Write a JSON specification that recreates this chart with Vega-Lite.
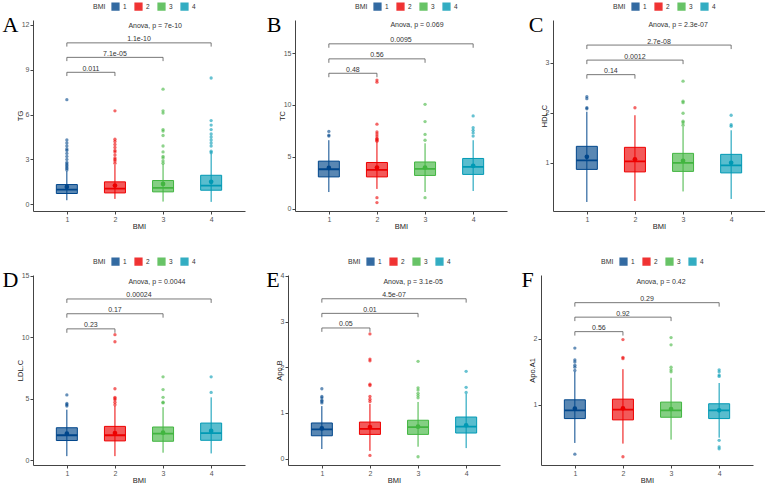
{
"$schema":"https://vega.github.io/schema/vega-lite/v6.json",
"padding":{"left":2,"top":2,"right":0,"bottom":0},
"background":"white",
"config":{
 "view":{"stroke":null},
 "font":"Liberation Sans",
 "range":{"category":["#00468B","#ED0000","#42B540","#0099B4"]},
 "axis":{"grid":false,"domainColor":"#444","tickColor":"#444","labelColor":"#555","labelFontSize":7,"titleFontSize":7.5,"titleFontWeight":"normal","titleColor":"#222","tickSize":3,"labelPadding":1,"domainWidth":1},
 "axisX":{"titlePadding":0},
 "axisY":{"titlePadding":-3},
 "legend":{"orient":"none","direction":"horizontal","titleOrient":"left","symbolType":"square","symbolSize":45,"labelFontSize":6.5,"titleFontSize":7,"titleFontWeight":"normal","titleColor":"#333","labelColor":"#333","columnPadding":5,"labelOffset":3,"titlePadding":5,"symbolOpacity":0.8},
 "title":{"font":"Liberation Serif","fontSize":22,"fontWeight":"normal","color":"#000","orient":"left","anchor":"end","frame":"group","angle":0,"baseline":"top","align":"right","offset":2,"dy":-5,"dx":20}
},
"datasets":{
"box":[
{"p":"A","BMI":1,"lo":0.27,"q1":0.72,"med":0.98,"q3":1.32,"hi":2.22,"mean":1.16},
{"p":"A","BMI":2,"lo":0.36,"q1":0.76,"med":1.05,"q3":1.5,"hi":2.65,"mean":1.25},
{"p":"A","BMI":3,"lo":0.18,"q1":0.83,"med":1.1,"q3":1.59,"hi":2.7,"mean":1.36},
{"p":"A","BMI":4,"lo":0.16,"q1":0.94,"med":1.25,"q3":1.94,"hi":3.4,"mean":1.5},
{"p":"B","BMI":1,"lo":1.6,"q1":3.06,"med":3.8,"q3":4.58,"hi":6.6,"mean":3.93},
{"p":"B","BMI":2,"lo":1.9,"q1":3.06,"med":3.74,"q3":4.45,"hi":6.4,"mean":3.97},
{"p":"B","BMI":3,"lo":1.6,"q1":3.2,"med":3.84,"q3":4.5,"hi":6.3,"mean":3.97},
{"p":"B","BMI":4,"lo":1.7,"q1":3.3,"med":4.03,"q3":4.84,"hi":6.6,"mean":4.13},
{"p":"C","BMI":1,"lo":0.22,"q1":0.87,"med":1.05,"q3":1.33,"hi":2.02,"mean":1.12},
{"p":"C","BMI":2,"lo":0.24,"q1":0.82,"med":1.03,"q3":1.31,"hi":1.95,"mean":1.07},
{"p":"C","BMI":3,"lo":0.43,"q1":0.83,"med":1.0,"q3":1.19,"hi":1.72,"mean":1.04},
{"p":"C","BMI":4,"lo":0.28,"q1":0.8,"med":0.95,"q3":1.17,"hi":1.65,"mean":1.0},
{"p":"D","BMI":1,"lo":0.32,"q1":1.59,"med":2.02,"q3":2.63,"hi":4.1,"mean":2.15},
{"p":"D","BMI":2,"lo":0.32,"q1":1.56,"med":2.02,"q3":2.74,"hi":4.4,"mean":2.2},
{"p":"D","BMI":3,"lo":0.6,"q1":1.53,"med":2.15,"q3":2.69,"hi":4.3,"mean":2.23},
{"p":"D","BMI":4,"lo":0.54,"q1":1.61,"med":2.2,"q3":3.01,"hi":5.1,"mean":2.37},
{"p":"E","BMI":1,"lo":0.21,"q1":0.5,"med":0.64,"q3":0.78,"hi":1.15,"mean":0.66},
{"p":"E","BMI":2,"lo":0.17,"q1":0.53,"med":0.65,"q3":0.8,"hi":1.2,"mean":0.69},
{"p":"E","BMI":3,"lo":0.26,"q1":0.53,"med":0.69,"q3":0.84,"hi":1.24,"mean":0.7},
{"p":"E","BMI":4,"lo":0.23,"q1":0.56,"med":0.7,"q3":0.91,"hi":1.42,"mean":0.73},
{"p":"F","BMI":1,"lo":0.42,"q1":0.79,"med":0.915,"q3":1.075,"hi":1.5,"mean":0.94},
{"p":"F","BMI":2,"lo":0.41,"q1":0.77,"med":0.925,"q3":1.085,"hi":1.54,"mean":0.945},
{"p":"F","BMI":3,"lo":0.47,"q1":0.81,"med":0.915,"q3":1.04,"hi":1.41,"mean":0.935},
{"p":"F","BMI":4,"lo":0.5,"q1":0.79,"med":0.915,"q3":1.015,"hi":1.33,"mean":0.915}
],
"out":[
{"p":"A","BMI":1,"v":2.3},{"p":"A","BMI":1,"v":2.4},{"p":"A","BMI":1,"v":2.5},{"p":"A","BMI":1,"v":2.6},{"p":"A","BMI":1,"v":2.7},{"p":"A","BMI":1,"v":2.8},{"p":"A","BMI":1,"v":3.0},{"p":"A","BMI":1,"v":3.2},{"p":"A","BMI":1,"v":3.4},{"p":"A","BMI":1,"v":3.6},{"p":"A","BMI":1,"v":3.7},{"p":"A","BMI":1,"v":3.9},{"p":"A","BMI":1,"v":4.1},{"p":"A","BMI":1,"v":4.3},{"p":"A","BMI":1,"v":7.0},
{"p":"A","BMI":2,"v":2.75},{"p":"A","BMI":2,"v":2.9},{"p":"A","BMI":2,"v":3.0},{"p":"A","BMI":2,"v":3.1},{"p":"A","BMI":2,"v":3.3},{"p":"A","BMI":2,"v":3.5},{"p":"A","BMI":2,"v":3.6},{"p":"A","BMI":2,"v":3.8},{"p":"A","BMI":2,"v":4.0},{"p":"A","BMI":2,"v":4.2},{"p":"A","BMI":2,"v":4.35},{"p":"A","BMI":2,"v":6.25},
{"p":"A","BMI":3,"v":2.75},{"p":"A","BMI":3,"v":2.9},{"p":"A","BMI":3,"v":3.1},{"p":"A","BMI":3,"v":3.2},{"p":"A","BMI":3,"v":3.5},{"p":"A","BMI":3,"v":3.9},{"p":"A","BMI":3,"v":4.6},{"p":"A","BMI":3,"v":4.9},{"p":"A","BMI":3,"v":5.0},{"p":"A","BMI":3,"v":6.1},{"p":"A","BMI":3,"v":6.25},{"p":"A","BMI":3,"v":7.7},
{"p":"A","BMI":4,"v":3.45},{"p":"A","BMI":4,"v":3.55},{"p":"A","BMI":4,"v":3.9},{"p":"A","BMI":4,"v":4.1},{"p":"A","BMI":4,"v":4.3},{"p":"A","BMI":4,"v":4.5},{"p":"A","BMI":4,"v":4.7},{"p":"A","BMI":4,"v":5.0},{"p":"A","BMI":4,"v":5.3},{"p":"A","BMI":4,"v":5.6},{"p":"A","BMI":4,"v":8.45},
{"p":"B","BMI":1,"v":7.0},{"p":"B","BMI":1,"v":7.1},{"p":"B","BMI":1,"v":7.45},
{"p":"B","BMI":2,"v":0.58},{"p":"B","BMI":2,"v":1.06},{"p":"B","BMI":2,"v":6.5},{"p":"B","BMI":2,"v":6.6},{"p":"B","BMI":2,"v":6.7},{"p":"B","BMI":2,"v":6.8},{"p":"B","BMI":2,"v":7.0},{"p":"B","BMI":2,"v":7.2},{"p":"B","BMI":2,"v":7.4},{"p":"B","BMI":2,"v":8.15},{"p":"B","BMI":2,"v":12.2},{"p":"B","BMI":2,"v":12.4},
{"p":"B","BMI":3,"v":1.06},{"p":"B","BMI":3,"v":6.6},{"p":"B","BMI":3,"v":7.16},{"p":"B","BMI":3,"v":8.4},{"p":"B","BMI":3,"v":10.06},
{"p":"B","BMI":4,"v":7.0},{"p":"B","BMI":4,"v":7.3},{"p":"B","BMI":4,"v":7.55},{"p":"B","BMI":4,"v":7.8},{"p":"B","BMI":4,"v":8.94},
{"p":"C","BMI":1,"v":2.08},{"p":"C","BMI":1,"v":2.1},{"p":"C","BMI":1,"v":2.28},{"p":"C","BMI":1,"v":2.32},
{"p":"C","BMI":2,"v":2.1},
{"p":"C","BMI":3,"v":1.75},{"p":"C","BMI":3,"v":1.8},{"p":"C","BMI":3,"v":1.83},{"p":"C","BMI":3,"v":1.99},{"p":"C","BMI":3,"v":2.2},{"p":"C","BMI":3,"v":2.23},{"p":"C","BMI":3,"v":2.63},
{"p":"C","BMI":4,"v":1.73},{"p":"C","BMI":4,"v":1.76},{"p":"C","BMI":4,"v":1.95},
{"p":"D","BMI":1,"v":4.4},{"p":"D","BMI":1,"v":4.5},{"p":"D","BMI":1,"v":4.6},{"p":"D","BMI":1,"v":5.3},
{"p":"D","BMI":2,"v":4.5},{"p":"D","BMI":2,"v":4.7},{"p":"D","BMI":2,"v":4.9},{"p":"D","BMI":2,"v":5.0},{"p":"D","BMI":2,"v":5.1},{"p":"D","BMI":2,"v":5.8},{"p":"D","BMI":2,"v":9.62},{"p":"D","BMI":2,"v":10.2},
{"p":"D","BMI":3,"v":4.65},{"p":"D","BMI":3,"v":4.7},{"p":"D","BMI":3,"v":5.1},{"p":"D","BMI":3,"v":5.73},{"p":"D","BMI":3,"v":6.77},
{"p":"D","BMI":4,"v":5.5},{"p":"D","BMI":4,"v":6.77},
{"p":"E","BMI":1,"v":1.22},{"p":"E","BMI":1,"v":1.25},{"p":"E","BMI":1,"v":1.28},{"p":"E","BMI":1,"v":1.33},{"p":"E","BMI":1,"v":1.36},{"p":"E","BMI":1,"v":1.53},
{"p":"E","BMI":2,"v":0.07},{"p":"E","BMI":2,"v":1.25},{"p":"E","BMI":2,"v":1.3},{"p":"E","BMI":2,"v":1.36},{"p":"E","BMI":2,"v":1.6},{"p":"E","BMI":2,"v":1.63},{"p":"E","BMI":2,"v":2.14},{"p":"E","BMI":2,"v":2.18},{"p":"E","BMI":2,"v":2.73},
{"p":"E","BMI":3,"v":0.04},{"p":"E","BMI":3,"v":1.33},{"p":"E","BMI":3,"v":1.38},{"p":"E","BMI":3,"v":1.43},{"p":"E","BMI":3,"v":1.5},{"p":"E","BMI":3,"v":1.55},{"p":"E","BMI":3,"v":2.13},
{"p":"E","BMI":4,"v":1.45},{"p":"E","BMI":4,"v":1.56},{"p":"E","BMI":4,"v":1.91},
{"p":"F","BMI":1,"v":0.25},{"p":"F","BMI":1,"v":1.52},{"p":"F","BMI":1,"v":1.57},{"p":"F","BMI":1,"v":1.6},{"p":"F","BMI":1,"v":1.65},{"p":"F","BMI":1,"v":1.68},{"p":"F","BMI":1,"v":1.86},
{"p":"F","BMI":2,"v":0.21},{"p":"F","BMI":2,"v":1.7},{"p":"F","BMI":2,"v":1.72},{"p":"F","BMI":2,"v":1.99},
{"p":"F","BMI":3,"v":1.5},{"p":"F","BMI":3,"v":1.53},{"p":"F","BMI":3,"v":1.57},{"p":"F","BMI":3,"v":1.91},{"p":"F","BMI":3,"v":2.02},
{"p":"F","BMI":4,"v":0.33},{"p":"F","BMI":4,"v":0.36},{"p":"F","BMI":4,"v":0.46},{"p":"F","BMI":4,"v":1.43},{"p":"F","BMI":4,"v":1.45},{"p":"F","BMI":4,"v":1.5},{"p":"F","BMI":4,"v":1.53}
],
"brk":[
{"p":"A","a":1,"b":2,"m":1.5,"y":8.83,"t":8.58,"lab":"0.011"},
{"p":"A","a":1,"b":3,"m":2,"y":9.83,"t":9.58,"lab":"7.1e-05"},
{"p":"A","a":1,"b":4,"m":2.5,"y":10.8,"t":10.55,"lab":"1.1e-10"},
{"p":"B","a":1,"b":2,"m":1.5,"y":13.06,"t":12.68,"lab":"0.48"},
{"p":"B","a":1,"b":3,"m":2,"y":14.45,"t":14.07,"lab":"0.56"},
{"p":"B","a":1,"b":4,"m":2.5,"y":15.9,"t":15.52,"lab":"0.0095"},
{"p":"C","a":1,"b":2,"m":1.5,"y":2.76,"t":2.68,"lab":"0.14"},
{"p":"C","a":1,"b":3,"m":2,"y":3.05,"t":2.97,"lab":"0.0012"},
{"p":"C","a":1,"b":4,"m":2.5,"y":3.35,"t":3.27,"lab":"2.7e-08"},
{"p":"D","a":1,"b":2,"m":1.5,"y":10.67,"t":10.35,"lab":"0.23"},
{"p":"D","a":1,"b":3,"m":2,"y":11.9,"t":11.58,"lab":"0.17"},
{"p":"D","a":1,"b":4,"m":2.5,"y":13.1,"t":12.78,"lab":"0.00024"},
{"p":"E","a":1,"b":2,"m":1.5,"y":2.86,"t":2.775,"lab":"0.05"},
{"p":"E","a":1,"b":3,"m":2,"y":3.18,"t":3.095,"lab":"0.01"},
{"p":"E","a":1,"b":4,"m":2.5,"y":3.5,"t":3.415,"lab":"4.5e-07"},
{"p":"F","a":1,"b":2,"m":1.5,"y":2.11,"t":2.05,"lab":"0.56"},
{"p":"F","a":1,"b":3,"m":2,"y":2.33,"t":2.27,"lab":"0.92"},
{"p":"F","a":1,"b":4,"m":2.5,"y":2.55,"t":2.49,"lab":"0.29"}
],
"aov":[
{"p":"A","x":2.28,"y":11.96,"lab":"Anova, p = 7e-10"},
{"p":"B","x":2.28,"y":17.7,"lab":"Anova, p = 0.069"},
{"p":"C","x":2.28,"y":3.75,"lab":"Anova, p = 2.3e-07"},
{"p":"D","x":2.28,"y":14.46,"lab":"Anova, p = 0.0044"},
{"p":"E","x":2.28,"y":3.86,"lab":"Anova, p = 3.1e-05"},
{"p":"F","x":2.28,"y":2.86,"lab":"Anova, p = 0.42"}
]
},
"spacing":27,
"resolve":{"scale":{"color":"independent"},"legend":{"color":"independent"}},
"vconcat":[
{"hconcat":[
{"width":212,"height":191,"title":{"text":"A"},
"encoding":{"x":{"field":"BMI","type":"quantitative","title":"BMI","scale":{"domain":[0.4,4.6],"nice":false,"zero":false},"axis":{"values":[1,2,3,4],"format":"d"}},
"y":{"field":"lo","type":"quantitative","title":"TG","scale":{"domain":[-0.45,12.33],"nice":false,"zero":false},"axis":{"values":[0,3,6,9,12]}}},
"layer":[
{"data":{"name":"box"},"transform":[{"filter":"datum.p=='A'"}],"mark":{"type":"rule","strokeWidth":1},"encoding":{"y2":{"field":"hi"},"color":{"field":"BMI","type":"nominal"}}},
{"data":{"name":"box"},"transform":[{"filter":"datum.p=='A'"}],"mark":{"type":"bar","size":21,"fillOpacity":0.65},"encoding":{"y":{"field":"q1","type":"quantitative","title":"TG"},"y2":{"field":"q3"},"color":{"field":"BMI","type":"nominal","title":"BMI","legend":{"orient":"none","legendX":60,"legendY":-18}}}},
{"data":{"name":"box"},"transform":[{"filter":"datum.p=='A'"}],"mark":{"type":"bar","size":21,"filled":false,"strokeWidth":1},"encoding":{"y":{"field":"q1","type":"quantitative","title":"TG"},"y2":{"field":"q3"},"color":{"field":"BMI","type":"nominal"}}},
{"data":{"name":"box"},"transform":[{"filter":"datum.p=='A'"}],"mark":{"type":"bar","size":21,"filled":false,"strokeWidth":1.8},"encoding":{"y":{"field":"med","type":"quantitative","title":"TG"},"y2":{"field":"med"},"color":{"field":"BMI","type":"nominal"}}},
{"data":{"name":"box"},"transform":[{"filter":"datum.p=='A'"}],"mark":{"type":"point","filled":true,"size":22,"opacity":1},"encoding":{"y":{"field":"mean","type":"quantitative","title":"TG"},"color":{"field":"BMI","type":"nominal"}}},
{"data":{"name":"out"},"transform":[{"filter":"datum.p=='A'"}],"mark":{"type":"point","filled":true,"size":11,"opacity":0.6},"encoding":{"y":{"field":"v","type":"quantitative","title":"TG"},"color":{"field":"BMI","type":"nominal"}}},
{"data":{"name":"brk"},"transform":[{"filter":"datum.p=='A'"}],"mark":{"type":"rule","color":"#555","strokeWidth":0.8},"encoding":{"x":{"field":"a","type":"quantitative","title":"BMI"},"x2":{"field":"b"},"y":{"field":"y","type":"quantitative","title":"TG"}}},
{"data":{"name":"brk"},"transform":[{"filter":"datum.p=='A'"}],"mark":{"type":"rule","color":"#555","strokeWidth":0.8},"encoding":{"x":{"field":"a","type":"quantitative","title":"BMI"},"y":{"field":"y","type":"quantitative","title":"TG"},"y2":{"field":"t"}}},
{"data":{"name":"brk"},"transform":[{"filter":"datum.p=='A'"}],"mark":{"type":"rule","color":"#555","strokeWidth":0.8},"encoding":{"x":{"field":"b","type":"quantitative","title":"BMI"},"y":{"field":"y","type":"quantitative","title":"TG"},"y2":{"field":"t"}}},
{"data":{"name":"brk"},"transform":[{"filter":"datum.p=='A'"}],"mark":{"type":"text","fontSize":7,"baseline":"bottom","dy":-0.5,"color":"#333"},"encoding":{"x":{"field":"m","type":"quantitative","title":"BMI"},"y":{"field":"y","type":"quantitative","title":"TG"},"text":{"field":"lab"}}},
{"data":{"name":"aov"},"transform":[{"filter":"datum.p=='A'"}],"mark":{"type":"text","fontSize":7,"align":"left","color":"#333"},"encoding":{"x":{"field":"x","type":"quantitative","title":"BMI"},"y":{"field":"y","type":"quantitative","title":"TG"},"text":{"field":"lab"}}}
]},
{"width":212,"height":191,"title":{"text":"B"},
"encoding":{"x":{"field":"BMI","type":"quantitative","title":"BMI","scale":{"domain":[0.4,4.6],"nice":false,"zero":false},"axis":{"values":[1,2,3,4],"format":"d"}},
"y":{"field":"lo","type":"quantitative","title":"TC","scale":{"domain":[-0.23,18.2],"nice":false,"zero":false},"axis":{"values":[0,5,10,15]}}},
"layer":[
{"data":{"name":"box"},"transform":[{"filter":"datum.p=='B'"}],"mark":{"type":"rule","strokeWidth":1},"encoding":{"y2":{"field":"hi"},"color":{"field":"BMI","type":"nominal"}}},
{"data":{"name":"box"},"transform":[{"filter":"datum.p=='B'"}],"mark":{"type":"bar","size":21,"fillOpacity":0.65},"encoding":{"y":{"field":"q1","type":"quantitative","title":"TC"},"y2":{"field":"q3"},"color":{"field":"BMI","type":"nominal","title":"BMI","legend":{"orient":"none","legendX":60,"legendY":-18}}}},
{"data":{"name":"box"},"transform":[{"filter":"datum.p=='B'"}],"mark":{"type":"bar","size":21,"filled":false,"strokeWidth":1},"encoding":{"y":{"field":"q1","type":"quantitative","title":"TC"},"y2":{"field":"q3"},"color":{"field":"BMI","type":"nominal"}}},
{"data":{"name":"box"},"transform":[{"filter":"datum.p=='B'"}],"mark":{"type":"bar","size":21,"filled":false,"strokeWidth":1.8},"encoding":{"y":{"field":"med","type":"quantitative","title":"TC"},"y2":{"field":"med"},"color":{"field":"BMI","type":"nominal"}}},
{"data":{"name":"box"},"transform":[{"filter":"datum.p=='B'"}],"mark":{"type":"point","filled":true,"size":22,"opacity":1},"encoding":{"y":{"field":"mean","type":"quantitative","title":"TC"},"color":{"field":"BMI","type":"nominal"}}},
{"data":{"name":"out"},"transform":[{"filter":"datum.p=='B'"}],"mark":{"type":"point","filled":true,"size":11,"opacity":0.6},"encoding":{"y":{"field":"v","type":"quantitative","title":"TC"},"color":{"field":"BMI","type":"nominal"}}},
{"data":{"name":"brk"},"transform":[{"filter":"datum.p=='B'"}],"mark":{"type":"rule","color":"#555","strokeWidth":0.8},"encoding":{"x":{"field":"a","type":"quantitative","title":"BMI"},"x2":{"field":"b"},"y":{"field":"y","type":"quantitative","title":"TC"}}},
{"data":{"name":"brk"},"transform":[{"filter":"datum.p=='B'"}],"mark":{"type":"rule","color":"#555","strokeWidth":0.8},"encoding":{"x":{"field":"a","type":"quantitative","title":"BMI"},"y":{"field":"y","type":"quantitative","title":"TC"},"y2":{"field":"t"}}},
{"data":{"name":"brk"},"transform":[{"filter":"datum.p=='B'"}],"mark":{"type":"rule","color":"#555","strokeWidth":0.8},"encoding":{"x":{"field":"b","type":"quantitative","title":"BMI"},"y":{"field":"y","type":"quantitative","title":"TC"},"y2":{"field":"t"}}},
{"data":{"name":"brk"},"transform":[{"filter":"datum.p=='B'"}],"mark":{"type":"text","fontSize":7,"baseline":"bottom","dy":-0.5,"color":"#333"},"encoding":{"x":{"field":"m","type":"quantitative","title":"BMI"},"y":{"field":"y","type":"quantitative","title":"TC"},"text":{"field":"lab"}}},
{"data":{"name":"aov"},"transform":[{"filter":"datum.p=='B'"}],"mark":{"type":"text","fontSize":7,"align":"left","color":"#333"},"encoding":{"x":{"field":"x","type":"quantitative","title":"BMI"},"y":{"field":"y","type":"quantitative","title":"TC"},"text":{"field":"lab"}}}
]},
{"width":212,"height":191,"title":{"text":"C"},
"encoding":{"x":{"field":"BMI","type":"quantitative","title":"BMI","scale":{"domain":[0.4,4.6],"nice":false,"zero":false},"axis":{"values":[1,2,3,4],"format":"d"}},
"y":{"field":"lo","type":"quantitative","title":"HDL.C","scale":{"domain":[0.04,3.85],"nice":false,"zero":false},"axis":{"values":[1,2,3]}}},
"layer":[
{"data":{"name":"box"},"transform":[{"filter":"datum.p=='C'"}],"mark":{"type":"rule","strokeWidth":1},"encoding":{"y2":{"field":"hi"},"color":{"field":"BMI","type":"nominal"}}},
{"data":{"name":"box"},"transform":[{"filter":"datum.p=='C'"}],"mark":{"type":"bar","size":21,"fillOpacity":0.65},"encoding":{"y":{"field":"q1","type":"quantitative","title":"HDL.C"},"y2":{"field":"q3"},"color":{"field":"BMI","type":"nominal","title":"BMI","legend":{"orient":"none","legendX":60,"legendY":-18}}}},
{"data":{"name":"box"},"transform":[{"filter":"datum.p=='C'"}],"mark":{"type":"bar","size":21,"filled":false,"strokeWidth":1},"encoding":{"y":{"field":"q1","type":"quantitative","title":"HDL.C"},"y2":{"field":"q3"},"color":{"field":"BMI","type":"nominal"}}},
{"data":{"name":"box"},"transform":[{"filter":"datum.p=='C'"}],"mark":{"type":"bar","size":21,"filled":false,"strokeWidth":1.8},"encoding":{"y":{"field":"med","type":"quantitative","title":"HDL.C"},"y2":{"field":"med"},"color":{"field":"BMI","type":"nominal"}}},
{"data":{"name":"box"},"transform":[{"filter":"datum.p=='C'"}],"mark":{"type":"point","filled":true,"size":22,"opacity":1},"encoding":{"y":{"field":"mean","type":"quantitative","title":"HDL.C"},"color":{"field":"BMI","type":"nominal"}}},
{"data":{"name":"out"},"transform":[{"filter":"datum.p=='C'"}],"mark":{"type":"point","filled":true,"size":11,"opacity":0.6},"encoding":{"y":{"field":"v","type":"quantitative","title":"HDL.C"},"color":{"field":"BMI","type":"nominal"}}},
{"data":{"name":"brk"},"transform":[{"filter":"datum.p=='C'"}],"mark":{"type":"rule","color":"#555","strokeWidth":0.8},"encoding":{"x":{"field":"a","type":"quantitative","title":"BMI"},"x2":{"field":"b"},"y":{"field":"y","type":"quantitative","title":"HDL.C"}}},
{"data":{"name":"brk"},"transform":[{"filter":"datum.p=='C'"}],"mark":{"type":"rule","color":"#555","strokeWidth":0.8},"encoding":{"x":{"field":"a","type":"quantitative","title":"BMI"},"y":{"field":"y","type":"quantitative","title":"HDL.C"},"y2":{"field":"t"}}},
{"data":{"name":"brk"},"transform":[{"filter":"datum.p=='C'"}],"mark":{"type":"rule","color":"#555","strokeWidth":0.8},"encoding":{"x":{"field":"b","type":"quantitative","title":"BMI"},"y":{"field":"y","type":"quantitative","title":"HDL.C"},"y2":{"field":"t"}}},
{"data":{"name":"brk"},"transform":[{"filter":"datum.p=='C'"}],"mark":{"type":"text","fontSize":7,"baseline":"bottom","dy":-0.5,"color":"#333"},"encoding":{"x":{"field":"m","type":"quantitative","title":"BMI"},"y":{"field":"y","type":"quantitative","title":"HDL.C"},"text":{"field":"lab"}}},
{"data":{"name":"aov"},"transform":[{"filter":"datum.p=='C'"}],"mark":{"type":"text","fontSize":7,"align":"left","color":"#333"},"encoding":{"x":{"field":"x","type":"quantitative","title":"BMI"},"y":{"field":"y","type":"quantitative","title":"HDL.C"},"text":{"field":"lab"}}}
]}
],"spacing":21,"resolve":{"scale":{"color":"independent"},"legend":{"color":"independent"}}},
{"hconcat":[
{"width":212,"height":190,"title":{"text":"D"},
"encoding":{"x":{"field":"BMI","type":"quantitative","title":"BMI","scale":{"domain":[0.4,4.6],"nice":false,"zero":false},"axis":{"values":[1,2,3,4],"format":"d"}},
"y":{"field":"lo","type":"quantitative","title":"LDL.C","scale":{"domain":[-0.4,15.05],"nice":false,"zero":false},"axis":{"values":[0,5,10,15]}}},
"layer":[
{"data":{"name":"box"},"transform":[{"filter":"datum.p=='D'"}],"mark":{"type":"rule","strokeWidth":1},"encoding":{"y2":{"field":"hi"},"color":{"field":"BMI","type":"nominal"}}},
{"data":{"name":"box"},"transform":[{"filter":"datum.p=='D'"}],"mark":{"type":"bar","size":21,"fillOpacity":0.65},"encoding":{"y":{"field":"q1","type":"quantitative","title":"LDL.C"},"y2":{"field":"q3"},"color":{"field":"BMI","type":"nominal","title":"BMI","legend":{"orient":"none","legendX":60,"legendY":-18}}}},
{"data":{"name":"box"},"transform":[{"filter":"datum.p=='D'"}],"mark":{"type":"bar","size":21,"filled":false,"strokeWidth":1},"encoding":{"y":{"field":"q1","type":"quantitative","title":"LDL.C"},"y2":{"field":"q3"},"color":{"field":"BMI","type":"nominal"}}},
{"data":{"name":"box"},"transform":[{"filter":"datum.p=='D'"}],"mark":{"type":"bar","size":21,"filled":false,"strokeWidth":1.8},"encoding":{"y":{"field":"med","type":"quantitative","title":"LDL.C"},"y2":{"field":"med"},"color":{"field":"BMI","type":"nominal"}}},
{"data":{"name":"box"},"transform":[{"filter":"datum.p=='D'"}],"mark":{"type":"point","filled":true,"size":22,"opacity":1},"encoding":{"y":{"field":"mean","type":"quantitative","title":"LDL.C"},"color":{"field":"BMI","type":"nominal"}}},
{"data":{"name":"out"},"transform":[{"filter":"datum.p=='D'"}],"mark":{"type":"point","filled":true,"size":11,"opacity":0.6},"encoding":{"y":{"field":"v","type":"quantitative","title":"LDL.C"},"color":{"field":"BMI","type":"nominal"}}},
{"data":{"name":"brk"},"transform":[{"filter":"datum.p=='D'"}],"mark":{"type":"rule","color":"#555","strokeWidth":0.8},"encoding":{"x":{"field":"a","type":"quantitative","title":"BMI"},"x2":{"field":"b"},"y":{"field":"y","type":"quantitative","title":"LDL.C"}}},
{"data":{"name":"brk"},"transform":[{"filter":"datum.p=='D'"}],"mark":{"type":"rule","color":"#555","strokeWidth":0.8},"encoding":{"x":{"field":"a","type":"quantitative","title":"BMI"},"y":{"field":"y","type":"quantitative","title":"LDL.C"},"y2":{"field":"t"}}},
{"data":{"name":"brk"},"transform":[{"filter":"datum.p=='D'"}],"mark":{"type":"rule","color":"#555","strokeWidth":0.8},"encoding":{"x":{"field":"b","type":"quantitative","title":"BMI"},"y":{"field":"y","type":"quantitative","title":"LDL.C"},"y2":{"field":"t"}}},
{"data":{"name":"brk"},"transform":[{"filter":"datum.p=='D'"}],"mark":{"type":"text","fontSize":7,"baseline":"bottom","dy":-0.5,"color":"#333"},"encoding":{"x":{"field":"m","type":"quantitative","title":"BMI"},"y":{"field":"y","type":"quantitative","title":"LDL.C"},"text":{"field":"lab"}}},
{"data":{"name":"aov"},"transform":[{"filter":"datum.p=='D'"}],"mark":{"type":"text","fontSize":7,"align":"left","color":"#333"},"encoding":{"x":{"field":"x","type":"quantitative","title":"BMI"},"y":{"field":"y","type":"quantitative","title":"LDL.C"},"text":{"field":"lab"}}}
]},
{"width":212,"height":190,"title":{"text":"E"},
"encoding":{"x":{"field":"BMI","type":"quantitative","title":"BMI","scale":{"domain":[0.4,4.6],"nice":false,"zero":false},"axis":{"values":[1,2,3,4],"format":"d"}},
"y":{"field":"lo","type":"quantitative","title":"Apo.B","scale":{"domain":[-0.14,4.02],"nice":false,"zero":false},"axis":{"values":[0,1,2,3,4]}}},
"layer":[
{"data":{"name":"box"},"transform":[{"filter":"datum.p=='E'"}],"mark":{"type":"rule","strokeWidth":1},"encoding":{"y2":{"field":"hi"},"color":{"field":"BMI","type":"nominal"}}},
{"data":{"name":"box"},"transform":[{"filter":"datum.p=='E'"}],"mark":{"type":"bar","size":21,"fillOpacity":0.65},"encoding":{"y":{"field":"q1","type":"quantitative","title":"Apo.B"},"y2":{"field":"q3"},"color":{"field":"BMI","type":"nominal","title":"BMI","legend":{"orient":"none","legendX":60,"legendY":-18}}}},
{"data":{"name":"box"},"transform":[{"filter":"datum.p=='E'"}],"mark":{"type":"bar","size":21,"filled":false,"strokeWidth":1},"encoding":{"y":{"field":"q1","type":"quantitative","title":"Apo.B"},"y2":{"field":"q3"},"color":{"field":"BMI","type":"nominal"}}},
{"data":{"name":"box"},"transform":[{"filter":"datum.p=='E'"}],"mark":{"type":"bar","size":21,"filled":false,"strokeWidth":1.8},"encoding":{"y":{"field":"med","type":"quantitative","title":"Apo.B"},"y2":{"field":"med"},"color":{"field":"BMI","type":"nominal"}}},
{"data":{"name":"box"},"transform":[{"filter":"datum.p=='E'"}],"mark":{"type":"point","filled":true,"size":22,"opacity":1},"encoding":{"y":{"field":"mean","type":"quantitative","title":"Apo.B"},"color":{"field":"BMI","type":"nominal"}}},
{"data":{"name":"out"},"transform":[{"filter":"datum.p=='E'"}],"mark":{"type":"point","filled":true,"size":11,"opacity":0.6},"encoding":{"y":{"field":"v","type":"quantitative","title":"Apo.B"},"color":{"field":"BMI","type":"nominal"}}},
{"data":{"name":"brk"},"transform":[{"filter":"datum.p=='E'"}],"mark":{"type":"rule","color":"#555","strokeWidth":0.8},"encoding":{"x":{"field":"a","type":"quantitative","title":"BMI"},"x2":{"field":"b"},"y":{"field":"y","type":"quantitative","title":"Apo.B"}}},
{"data":{"name":"brk"},"transform":[{"filter":"datum.p=='E'"}],"mark":{"type":"rule","color":"#555","strokeWidth":0.8},"encoding":{"x":{"field":"a","type":"quantitative","title":"BMI"},"y":{"field":"y","type":"quantitative","title":"Apo.B"},"y2":{"field":"t"}}},
{"data":{"name":"brk"},"transform":[{"filter":"datum.p=='E'"}],"mark":{"type":"rule","color":"#555","strokeWidth":0.8},"encoding":{"x":{"field":"b","type":"quantitative","title":"BMI"},"y":{"field":"y","type":"quantitative","title":"Apo.B"},"y2":{"field":"t"}}},
{"data":{"name":"brk"},"transform":[{"filter":"datum.p=='E'"}],"mark":{"type":"text","fontSize":7,"baseline":"bottom","dy":-0.5,"color":"#333"},"encoding":{"x":{"field":"m","type":"quantitative","title":"BMI"},"y":{"field":"y","type":"quantitative","title":"Apo.B"},"text":{"field":"lab"}}},
{"data":{"name":"aov"},"transform":[{"filter":"datum.p=='E'"}],"mark":{"type":"text","fontSize":7,"align":"left","color":"#333"},"encoding":{"x":{"field":"x","type":"quantitative","title":"BMI"},"y":{"field":"y","type":"quantitative","title":"Apo.B"},"text":{"field":"lab"}}}
]},
{"width":212,"height":190,"title":{"text":"F"},
"encoding":{"x":{"field":"BMI","type":"quantitative","title":"BMI","scale":{"domain":[0.4,4.6],"nice":false,"zero":false},"axis":{"values":[1,2,3,4],"format":"d"}},
"y":{"field":"lo","type":"quantitative","title":"Apo.A1","scale":{"domain":[0.085,2.97],"nice":false,"zero":false},"axis":{"values":[1,2]}}},
"layer":[
{"data":{"name":"box"},"transform":[{"filter":"datum.p=='F'"}],"mark":{"type":"rule","strokeWidth":1},"encoding":{"y2":{"field":"hi"},"color":{"field":"BMI","type":"nominal"}}},
{"data":{"name":"box"},"transform":[{"filter":"datum.p=='F'"}],"mark":{"type":"bar","size":21,"fillOpacity":0.65},"encoding":{"y":{"field":"q1","type":"quantitative","title":"Apo.A1"},"y2":{"field":"q3"},"color":{"field":"BMI","type":"nominal","title":"BMI","legend":{"orient":"none","legendX":60,"legendY":-18}}}},
{"data":{"name":"box"},"transform":[{"filter":"datum.p=='F'"}],"mark":{"type":"bar","size":21,"filled":false,"strokeWidth":1},"encoding":{"y":{"field":"q1","type":"quantitative","title":"Apo.A1"},"y2":{"field":"q3"},"color":{"field":"BMI","type":"nominal"}}},
{"data":{"name":"box"},"transform":[{"filter":"datum.p=='F'"}],"mark":{"type":"bar","size":21,"filled":false,"strokeWidth":1.8},"encoding":{"y":{"field":"med","type":"quantitative","title":"Apo.A1"},"y2":{"field":"med"},"color":{"field":"BMI","type":"nominal"}}},
{"data":{"name":"box"},"transform":[{"filter":"datum.p=='F'"}],"mark":{"type":"point","filled":true,"size":22,"opacity":1},"encoding":{"y":{"field":"mean","type":"quantitative","title":"Apo.A1"},"color":{"field":"BMI","type":"nominal"}}},
{"data":{"name":"out"},"transform":[{"filter":"datum.p=='F'"}],"mark":{"type":"point","filled":true,"size":11,"opacity":0.6},"encoding":{"y":{"field":"v","type":"quantitative","title":"Apo.A1"},"color":{"field":"BMI","type":"nominal"}}},
{"data":{"name":"brk"},"transform":[{"filter":"datum.p=='F'"}],"mark":{"type":"rule","color":"#555","strokeWidth":0.8},"encoding":{"x":{"field":"a","type":"quantitative","title":"BMI"},"x2":{"field":"b"},"y":{"field":"y","type":"quantitative","title":"Apo.A1"}}},
{"data":{"name":"brk"},"transform":[{"filter":"datum.p=='F'"}],"mark":{"type":"rule","color":"#555","strokeWidth":0.8},"encoding":{"x":{"field":"a","type":"quantitative","title":"BMI"},"y":{"field":"y","type":"quantitative","title":"Apo.A1"},"y2":{"field":"t"}}},
{"data":{"name":"brk"},"transform":[{"filter":"datum.p=='F'"}],"mark":{"type":"rule","color":"#555","strokeWidth":0.8},"encoding":{"x":{"field":"b","type":"quantitative","title":"BMI"},"y":{"field":"y","type":"quantitative","title":"Apo.A1"},"y2":{"field":"t"}}},
{"data":{"name":"brk"},"transform":[{"filter":"datum.p=='F'"}],"mark":{"type":"text","fontSize":7,"baseline":"bottom","dy":-0.5,"color":"#333"},"encoding":{"x":{"field":"m","type":"quantitative","title":"BMI"},"y":{"field":"y","type":"quantitative","title":"Apo.A1"},"text":{"field":"lab"}}},
{"data":{"name":"aov"},"transform":[{"filter":"datum.p=='F'"}],"mark":{"type":"text","fontSize":7,"align":"left","color":"#333"},"encoding":{"x":{"field":"x","type":"quantitative","title":"BMI"},"y":{"field":"y","type":"quantitative","title":"Apo.A1"},"text":{"field":"lab"}}}
]}
],"spacing":21,"resolve":{"scale":{"color":"independent"},"legend":{"color":"independent"}}}
]
}
